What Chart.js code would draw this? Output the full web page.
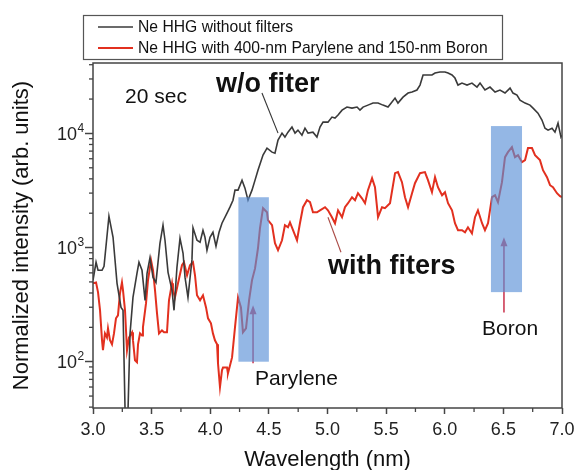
<!DOCTYPE html>
<html><head><meta charset="utf-8">
<script src="https://cdn.jsdelivr.net/npm/chart.js@4"></script>
<style>html,body{margin:0;padding:0;background:#fff}canvas{display:block}</style>
</head><body>
<canvas id="c" width="576" height="470"></canvas>
<script>
// ---- data ----
const waveBlack=[3.000,3.026,3.043,3.077,3.094,3.136,3.171,3.205,3.239,3.256,
3.277,3.294,3.316,3.341,3.375,3.392,3.418,3.444,3.461,3.486,
3.512,3.537,3.571,3.597,3.614,3.640,3.674,3.691,3.716,3.742,
3.768,3.785,3.810,3.844,3.853,3.887,3.913,3.938,3.955,3.972,
3.998,4.023,4.049,4.075,4.100,4.143,4.168,4.194,4.211,4.237,
4.271,4.296,4.322,4.356,4.382,4.407,4.450,4.484,4.527,4.552,
4.578,4.612,4.637,4.663,4.697,4.723,4.748,4.782,4.808,4.834,
4.876,4.910,4.936,4.962,5.004,5.038,5.064,5.090,5.124,5.166,
5.209,5.252,5.277,5.303,5.345,5.388,5.431,5.473,5.516,5.550,
5.576,5.601,5.644,5.687,5.721,5.763,5.789,5.815,5.849,5.891,
5.917,5.959,6.002,6.028,6.062,6.087,6.113,6.147,6.190,6.232,
6.275,6.301,6.343,6.386,6.429,6.471,6.514,6.557,6.582,6.616,
6.642,6.685,6.727,6.753,6.795,6.829,6.855,6.881,6.915,6.940,
6.966,6.991,7.000];
const intBlack=[516,743,632,632,686,1884,1231,486,299,282,
25,25,177,366,595,743,632,345,595,813,
548,495,1089,1570,1159,607,422,282,671,1208,
891,548,366,780,1489,1159,1112,1415,1231,947,
1231,1362,1026,1362,1633,2000,2258,2600,3184,3184,
3897,3314,2600,3184,3897,4764,6457,7435,6855,6700,
8735,10060,9290,10260,11360,10060,10690,9660,11120,10060,
10260,9290,11360,12560,12560,13900,13620,14480,16000,17020,
16660,17020,16000,17020,17700,18450,18450,17700,17020,18830,
20400,18450,20800,22580,23040,24000,26530,32500,32500,32500,
33800,34500,34500,33800,32500,30550,26530,27630,26530,27630,
25480,27630,24000,25480,23040,24000,22580,24950,22580,21670,
19600,18450,17700,16660,15060,13090,11120,10690,11120,10260,
12310,9290,9660];
const waveRed=[3.000,3.026,3.043,3.060,3.077,3.085,3.102,3.119,3.128,3.145,
3.162,3.179,3.196,3.213,3.230,3.247,3.256,3.273,3.290,3.307,
3.333,3.341,3.358,3.375,3.384,3.401,3.418,3.426,3.452,3.469,
3.495,3.512,3.529,3.546,3.563,3.588,3.606,3.631,3.648,3.674,
3.682,3.699,3.725,3.759,3.776,3.802,3.827,3.853,3.870,3.887,
3.913,3.938,3.964,3.981,4.006,4.023,4.040,4.058,4.066,4.083,
4.100,4.109,4.143,4.151,4.186,4.211,4.237,4.262,4.279,4.305,
4.331,4.356,4.382,4.407,4.424,4.450,4.484,4.492,4.527,4.552,
4.578,4.612,4.637,4.663,4.680,4.706,4.740,4.765,4.791,4.825,
4.851,4.876,4.910,4.936,4.979,5.004,5.038,5.064,5.090,5.124,
5.149,5.175,5.209,5.235,5.260,5.294,5.320,5.345,5.380,5.405,
5.431,5.465,5.490,5.533,5.576,5.601,5.635,5.661,5.687,5.721,
5.746,5.789,5.831,5.857,5.891,5.917,5.942,5.977,6.002,6.028,
6.062,6.087,6.113,6.147,6.173,6.198,6.232,6.258,6.283,6.318,
6.343,6.369,6.403,6.429,6.454,6.488,6.514,6.539,6.573,6.599,
6.625,6.659,6.685,6.710,6.744,6.770,6.812,6.838,6.872,6.898,
6.923,6.957,6.983,7.000];
const intRed=[486,495,405,282,154,126,177,163,196,154,
142,177,240,255,397,495,422,282,126,163,
181,154,103,99,142,177,170,200,324,517,
774,632,422,265,177,188,181,181,345,486,
422,366,486,700,743,572,700,743,572,382,
345,382,299,240,217,177,154,142,97,60,
84,89,89,79,109,200,366,299,181,196,
345,517,657,986,1476,2213,2040,1740,1570,1091,
947,1159,1570,1507,1663,1420,1159,1633,2258,2600,
2495,2040,2040,2120,2258,2120,1845,1633,2120,1845,
2258,2448,2762,2600,2993,2704,2448,3184,4054,3379,
1845,2258,2213,2448,4486,4580,3741,2762,2258,2993,
3663,4486,4580,3897,3055,4140,3379,2870,3055,2448,
2120,1633,1420,1420,1362,1505,1330,1845,2120,1633,
1420,1633,2762,2870,2500,3741,6195,6855,7590,6195,
6450,5600,5840,7435,7435,6450,5840,4764,4140,3518,
3379,2993,2820,2762];
const seriesLabels=['Ne HHG without filters','Ne HHG with 400-nm Parylene and 150-nm Boron'];
const xTickValues=[3,3.5,4,4.5,5,5.5,6,6.5,7];
const xTickLabels=['3.0','3.5','4.0','4.5','5.0','5.5','6.0','6.5','7.0'];
const xMinorTicks=[3.25,3.75,4.25,4.75,5.25,5.75,6.25,6.75];
const yTickValues=[100,1000,10000];
const yTickExponents=['2','3','4'];
const bandWave=[[4.24,4.50],[6.394,6.659]];
const bandInt=[[100,2760],[407,11600]];
const arrowWave=[4.365,6.505];
const arrowInt=[[97,312],[270,1231]];

const FONT="'Liberation Sans', Arial, sans-serif";
Chart.defaults.font.family=FONT;

const decor={
  id:'decor',
  afterDatasetsDraw(chart){
    const ctx=chart.ctx, xs=chart.scales.x, ys=chart.scales.y;
    const X=v=>xs.getPixelForValue(v), Y=v=>ys.getPixelForValue(v);
    ctx.save();
    ctx.strokeStyle='rgb(205,60,85)'; ctx.fillStyle='rgb(205,60,85)'; ctx.lineWidth=1.6;
    arrowWave.forEach((w,i)=>{
      const px=X(w), yb=Y(arrowInt[i][0]), yt=Y(arrowInt[i][1]);
      ctx.beginPath(); ctx.moveTo(px,yb); ctx.lineTo(px,yt+7); ctx.stroke();
      ctx.beginPath(); ctx.moveTo(px,yt); ctx.lineTo(px-3.5,yt+9); ctx.lineTo(px+3.5,yt+9); ctx.closePath(); ctx.fill();
    });
    ctx.fillStyle='rgba(90,145,215,0.65)';
    bandWave.forEach((b,i)=>{
      const x0=X(b[0]), x1=X(b[1]), y0=Y(bandInt[i][0]), y1=Y(bandInt[i][1]);
      ctx.fillRect(x0,y1,x1-x0,y0-y1);
    });
    ctx.lineWidth=1.1;
    ctx.strokeStyle='#333';
    ctx.beginPath(); ctx.moveTo(X(4.441),Y(22600)); ctx.lineTo(X(4.578),Y(10060)); ctx.stroke();
    ctx.strokeStyle='rgb(170,75,70)';
    ctx.beginPath(); ctx.moveTo(X(5.115),Y(910)); ctx.lineTo(X(5.004),Y(1845)); ctx.stroke();
    ctx.fillStyle='#111'; ctx.textAlign='left'; ctx.textBaseline='alphabetic';
    ctx.font='21px '+FONT; ctx.fillText('20 sec',X(3.273),Y(18440));
    ctx.font='bold 27px '+FONT; ctx.fillText('w/o fiter',X(4.049),Y(23000));
    ctx.fillText('with fiters',X(5.004),Y(584));
    ctx.font='21px '+FONT; ctx.fillText('Parylene',X(4.382),Y(62));
    ctx.fillText('Boron',X(6.318),Y(170));
    ctx.restore();
  },
  afterDraw(chart){
    const ctx=chart.ctx, a=chart.chartArea, xs=chart.scales.x, ys=chart.scales.y;
    ctx.save();
    ctx.strokeStyle='#444'; ctx.lineWidth=1.5;
    ctx.strokeRect(a.left,a.top,a.right-a.left,a.bottom-a.top);
    ctx.lineWidth=1.3;
    xMinorTicks.forEach(v=>{const p=xs.getPixelForValue(v); ctx.beginPath(); ctx.moveTo(p,a.bottom); ctx.lineTo(p,a.bottom+4); ctx.stroke();});
    for(let e=1;e<=4;e++){for(let k=2;k<=9;k++){const v=k*Math.pow(10,e); if(v<ys.min||v>ys.max) continue; const p=ys.getPixelForValue(v); ctx.beginPath(); ctx.moveTo(a.left-4,p); ctx.lineTo(a.left,p); ctx.stroke();}}
    ctx.fillStyle='#222';
    yTickValues.forEach((v,i)=>{
      const p=ys.getPixelForValue(v);
      ctx.font='18px '+FONT; ctx.textAlign='right'; ctx.textBaseline='middle';
      ctx.fillText('10',77,p+1.5);
      ctx.font='12px '+FONT; ctx.textAlign='left';
      ctx.fillText(yTickExponents[i],77.5,p-5);
    });
    ctx.strokeStyle='#555'; ctx.lineWidth=1.2;
    ctx.strokeRect(83.5,15.5,419,44);
    chart.data.datasets.forEach((ds,i)=>{
      const yy=27+i*21;
      ctx.strokeStyle=ds.borderColor; ctx.lineWidth=ds.borderWidth;
      ctx.beginPath(); ctx.moveTo(98,yy); ctx.lineTo(133,yy); ctx.stroke();
      ctx.fillStyle='#111'; ctx.font='15.7px '+FONT; ctx.textAlign='left'; ctx.textBaseline='middle';
      ctx.fillText(ds.label,138,yy+1);
    });
    ctx.restore();
  }
};

new Chart(document.getElementById('c'),{
  type:'line',
  data:{datasets:[
    {label:seriesLabels[0],data:waveBlack.map((w,i)=>({x:w,y:intBlack[i]})),borderColor:'#3a3a3a',borderWidth:1.6,pointRadius:0,tension:0},
    {label:seriesLabels[1],data:waveRed.map((w,i)=>({x:w,y:intRed[i]})),borderColor:'#e2301f',borderWidth:2,pointRadius:0,tension:0}
  ]},
  options:{
    responsive:false,animation:false,devicePixelRatio:1,
    layout:{padding:{left:0,right:14,top:63,bottom:0}},
    plugins:{legend:{display:false},tooltip:{enabled:false}},
    scales:{
      x:{type:'linear',min:3,max:7,
        afterBuildTicks:s=>{s.ticks=xTickValues.map(v=>({value:v}));},
        afterFit:s=>{s.height=62; s.paddingLeft=0; s.paddingRight=0;},
        ticks:{callback:(v)=>xTickLabels[xTickValues.indexOf(v)],font:{size:18},color:'#222',padding:5,maxRotation:0,autoSkip:false},
        grid:{drawOnChartArea:false,drawTicks:true,tickLength:6,tickColor:'#444',tickWidth:1.5},
        border:{display:false},
        title:{display:true,text:'Wavelength (nm)',font:{size:22},color:'#111',padding:{top:0,bottom:-3}}
      },
      y:{type:'logarithmic',min:39.3,max:41400,
        afterBuildTicks:s=>{s.ticks=yTickValues.map(v=>({value:v}));},
        afterFit:s=>{s.width=93; s.paddingTop=0; s.paddingBottom=0;},
        ticks:{display:false},
        grid:{drawOnChartArea:false,drawTicks:true,tickLength:8,tickColor:'#444',tickWidth:1.5},
        border:{display:false},
        title:{display:true,text:'Normalized intensity (arb. units)',font:{size:22},color:'#111',padding:{top:9,bottom:0}}
      }
    }
  },
  plugins:[decor]
});
</script>
</body></html>
